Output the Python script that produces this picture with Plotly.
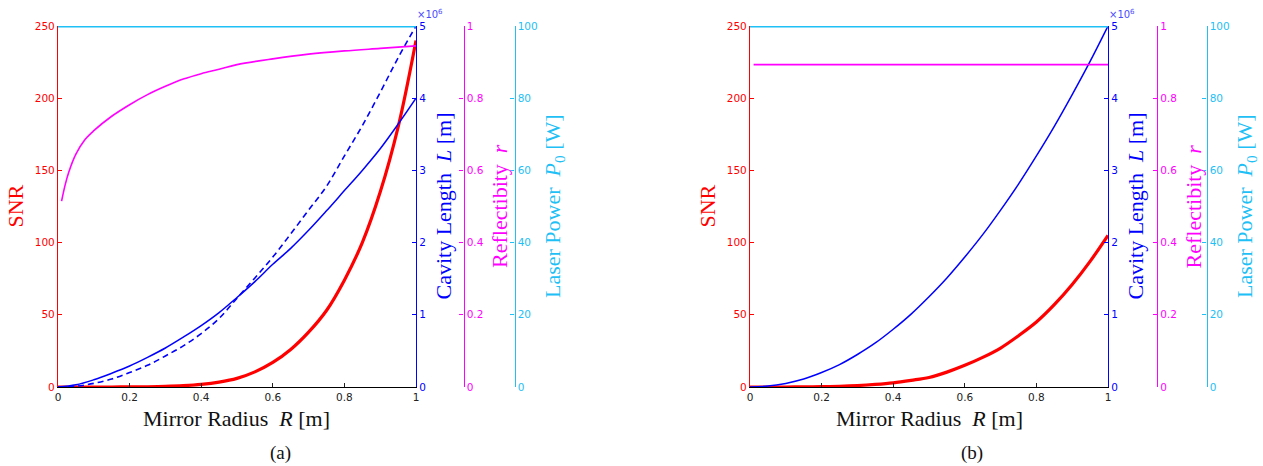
import plotly.graph_objects as go

# ---------------- data ----------------
R_grid = [0.0, 0.05, 0.1, 0.15, 0.2, 0.25, 0.3, 0.35, 0.4, 0.45, 0.5,
          0.55, 0.6, 0.65, 0.7, 0.75, 0.8, 0.85, 0.9, 0.95, 1.0]

# panel (a)
snr_a = [0, 0, 0.001, 0.01, 0.05, 0.15, 0.4, 0.9, 1.8, 3.4, 6.0,
         10.5, 17, 26, 38, 53, 74, 100, 135, 180, 240]
L_a_solid = [0, 0.03, 0.1, 0.19, 0.29, 0.41, 0.54, 0.69, 0.85, 1.03, 1.24,
             1.46, 1.70, 1.92, 2.17, 2.44, 2.72, 3.00, 3.30, 3.64, 4.0]
L_a_dashed = [0, 0.01, 0.05, 0.11, 0.2, 0.3, 0.43, 0.57, 0.74, 0.95, 1.23,
              1.51, 1.80, 2.12, 2.45, 2.78, 3.20, 3.62, 4.08, 4.56, 5.0]
R_refl = [0.01, 0.02, 0.03, 0.05, 0.075, 0.1, 0.15, 0.2, 0.25, 0.3, 0.35,
          0.4, 0.45, 0.5, 0.6, 0.7, 0.8, 0.9, 1.0]
refl_a = [0.515, 0.56, 0.595, 0.645, 0.685, 0.71, 0.75, 0.782, 0.81, 0.833,
          0.853, 0.868, 0.88, 0.893, 0.909, 0.922, 0.931, 0.938, 0.945]

# panel (b)
snr_b = [0, 0, 0.01, 0.07, 0.2, 0.5, 1.0, 1.8, 2.9, 4.6, 6.6,
         10.3, 15, 20.5, 27, 35.5, 45, 57, 71, 87, 105]
L_b = [0, 0.0125, 0.05, 0.11, 0.2, 0.31, 0.45, 0.61, 0.8, 1.01, 1.25,
       1.51, 1.8, 2.11, 2.45, 2.81, 3.2, 3.61, 4.05, 4.51, 5.0]
R_const = [0.01, 1.0]
refl_b = [0.893, 0.893]
R_power = [0.0, 1.0]
power = [100, 100]

# tick labels
x_ticks = [0, 0.2, 0.4, 0.6, 0.8, 1]
x_ticktext = ["0", "0.2", "0.4", "0.6", "0.8", "1"]
snr_ticks = [0, 50, 100, 150, 200, 250]
L_ticks = [0, 1, 2, 3, 4, 5]
r_ticks = [0, 0.2, 0.4, 0.6, 0.8, 1]
r_ticktext = ["0", "0.2", "0.4", "0.6", "0.8", "1"]
p_ticks = [0, 20, 40, 60, 80, 100]

# ---------------- style ----------------
W, H = 1263, 466
RED = "#ff0000"
BLUE = "#0000ff"
MAG = "#ff00ff"
CYAN = "#1ec0f5"
TICKFONT = dict(family="DejaVu Sans", size=10.5)
SERIF = "Liberation Serif"

def px(x):
    return x / W

def py(y):
    return 1 - y / H

top, bot = 26, 387
panels = [
    dict(x0=58, x1=416, xmag=463.5, xcyan=514.5, label="(a)"),
    dict(x0=750, x1=1108, xmag=1157, xcyan=1206.5, label="(b)"),
]

fig = go.Figure()

# panel a traces
fig.add_trace(go.Scatter(x=R_power, y=power, mode="lines", line=dict(color=CYAN, width=3),
                         xaxis="x", yaxis="y4", showlegend=False))
fig.add_trace(go.Scatter(x=R_refl, y=refl_a, mode="lines", line=dict(color=MAG, width=1.6, shape="spline"),
                         xaxis="x", yaxis="y3", showlegend=False))
fig.add_trace(go.Scatter(x=R_grid, y=L_a_solid, mode="lines", line=dict(color=BLUE, width=1.5, shape="spline"),
                         xaxis="x", yaxis="y2", showlegend=False))
fig.add_trace(go.Scatter(x=R_grid, y=L_a_dashed, mode="lines",
                         line=dict(color=BLUE, width=1.6, dash="6px,4px", shape="spline"),
                         xaxis="x", yaxis="y2", showlegend=False))
fig.add_trace(go.Scatter(x=R_grid, y=snr_a, mode="lines", line=dict(color=RED, width=3.2, shape="spline"),
                         xaxis="x", yaxis="y", showlegend=False))

# panel b traces
fig.add_trace(go.Scatter(x=R_power, y=power, mode="lines", line=dict(color=CYAN, width=3),
                         xaxis="x2", yaxis="y8", showlegend=False))
fig.add_trace(go.Scatter(x=R_const, y=refl_b, mode="lines", line=dict(color=MAG, width=1.8),
                         xaxis="x2", yaxis="y7", showlegend=False))
fig.add_trace(go.Scatter(x=R_grid, y=L_b, mode="lines", line=dict(color=BLUE, width=1.5, shape="spline"),
                         xaxis="x2", yaxis="y6", showlegend=False))
fig.add_trace(go.Scatter(x=R_grid, y=snr_b, mode="lines", line=dict(color=RED, width=3.2, shape="spline"),
                         xaxis="x2", yaxis="y5", showlegend=False))

layout = dict(width=W, height=H, margin=dict(l=0, r=0, t=0, b=0, autoexpand=False),
              paper_bgcolor="white", plot_bgcolor="white", showlegend=False)

annotations = []
for i, p in enumerate(panels):
    xa = "xaxis" if i == 0 else "xaxis2"
    xref = "x" if i == 0 else "x2"
    base = 1 + 4 * i
    ys = ["y" if base == 1 else f"y{base}", f"y{base+1}", f"y{base+2}", f"y{base+3}"]
    ykeys = ["yaxis" if base == 1 else f"yaxis{base}", f"yaxis{base+1}", f"yaxis{base+2}", f"yaxis{base+3}"]
    dom_x = [px(p["x0"]), px(p["x1"])]
    dom_y = [py(bot), py(top)]
    common = dict(showgrid=False, zeroline=False, automargin=False, showline=True,
                  linewidth=1.2, ticks="inside", ticklen=4)
    layout[xa] = dict(domain=dom_x, range=[0, 1], anchor=ys[0], tickvals=x_ticks, ticktext=x_ticktext,
                      tickcolor="#222", linecolor="black", tickfont=dict(TICKFONT, color="#222"), **common)
    layout[ykeys[0]] = dict(domain=dom_y, range=[0, 250], anchor=xref, side="left", tickvals=snr_ticks,
                            tickcolor=RED, linecolor=RED, tickfont=dict(TICKFONT, color=RED), **common)
    layout[ykeys[1]] = dict(range=[0, 5], overlaying=ys[0], anchor=xref, side="right", tickvals=L_ticks,
                            tickcolor=BLUE, linecolor=BLUE, tickfont=dict(TICKFONT, color=BLUE), **common)
    layout[ykeys[2]] = dict(range=[0, 1], overlaying=ys[0], anchor="free", position=px(p["xmag"]),
                            side="right", tickvals=r_ticks, ticktext=r_ticktext,
                            tickcolor=MAG, linecolor=MAG, tickfont=dict(TICKFONT, color=MAG), **common)
    layout[ykeys[3]] = dict(range=[0, 100], overlaying=ys[0], anchor="free", position=px(p["xcyan"]),
                            side="right", tickvals=p_ticks,
                            tickcolor=CYAN, linecolor=CYAN, tickfont=dict(TICKFONT, color=CYAN), **common)

    ymid = py((top + bot) / 2)
    tf = dict(family=SERIF, size=22)
    annotations += [
        dict(text="SNR", x=px(p["x0"] - 43), y=ymid, xref="paper", yref="paper", textangle=-90,
             showarrow=False, font=dict(tf, color=RED), xanchor="center", yanchor="middle"),
        dict(text="Cavity Length  <i>L</i> [m]", x=px(p["x1"] + 27), y=ymid, xref="paper", yref="paper",
             textangle=-90, showarrow=False, font=dict(tf, color=BLUE), xanchor="center", yanchor="middle"),
        dict(text="Reflectibity  <i>r</i>", x=px(p["xmag"] + 36), y=ymid, xref="paper", yref="paper",
             textangle=-90, showarrow=False, font=dict(tf, color=MAG), xanchor="center", yanchor="middle"),
        dict(text="Laser Power  <i>P</i><sub>0</sub> [W]", x=px(p["xcyan"] + 39), y=ymid, xref="paper",
             yref="paper", textangle=-90, showarrow=False, font=dict(tf, color=CYAN),
             xanchor="center", yanchor="middle"),
        dict(text="Mirror Radius  <i>R</i> [m]", x=px((p["x0"] + p["x1"]) / 2), y=py(418), xref="paper",
             yref="paper", showarrow=False, font=dict(tf, color="#111"), xanchor="center", yanchor="middle"),
        dict(text=p["label"], x=px((p["x0"] + p["x1"]) / 2 + 43), y=py(453), xref="paper", yref="paper",
             showarrow=False, font=dict(family=SERIF, size=19, color="#111"), xanchor="center",
             yanchor="middle", borderpad=0),
        dict(text="×10<sup>6</sup>", x=px(p["x1"] - 1), y=py(14), xref="paper", yref="paper",
             showarrow=False, font=dict(family="DejaVu Sans", size=10, color="#4a4aff"),
             xanchor="left", yanchor="middle"),
    ]

layout["annotations"] = annotations
fig.update_layout(**layout)
fig.write_html("out.html", config={"displayModeBar": False},
               post_script="document.body.style.margin='0';document.body.style.overflow='hidden';")
